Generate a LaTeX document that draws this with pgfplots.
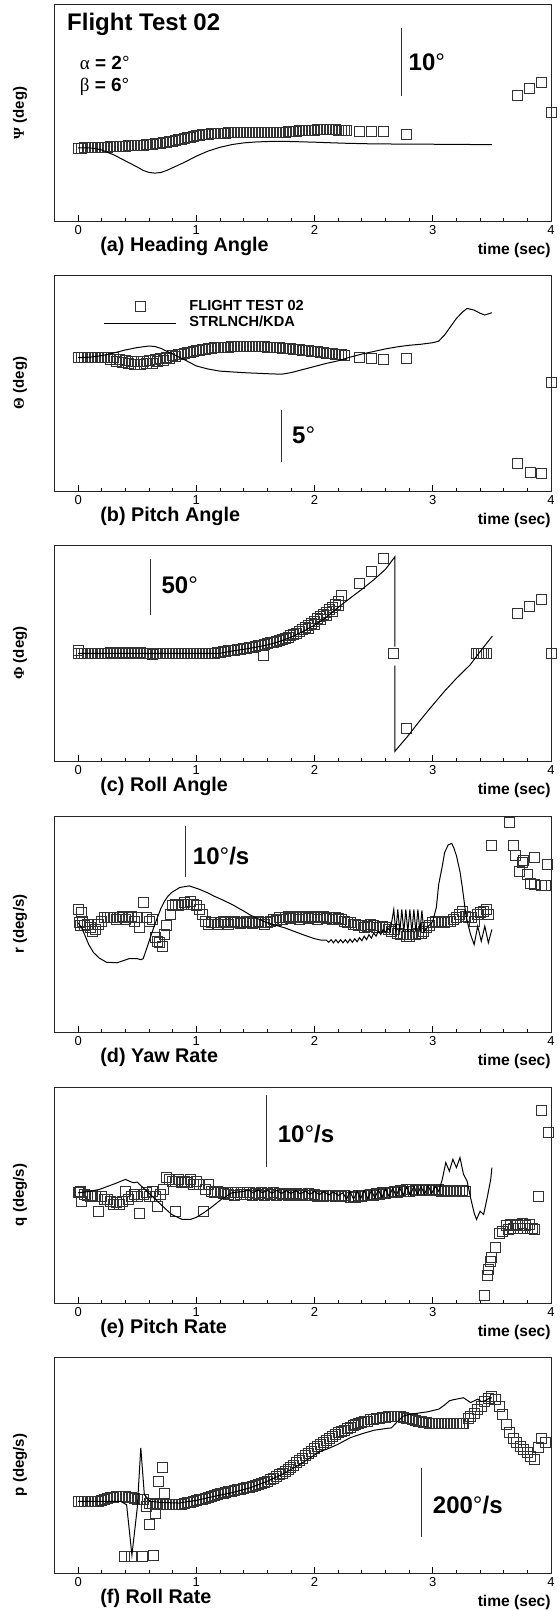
\documentclass[border=0pt]{standalone}
\usepackage{fontspec}
\setmainfont{Liberation Sans}
\newfontfamily\grk{Liberation Serif}
\usepackage{pgfplots}
\pgfplotsset{compat=1.18}

\tikzset{scalebar/.style={line width=0.5pt, black!80}}
\pgfplotsset{
  panel/.style={
    scale only axis, width=248.25pt, height=108pt, anchor=south west,
    xmin=-0.2, xmax=4, xtick={0,1,2,3,4}, minor x tick num=4, ytick=\empty,
    xtick pos=left, tick align=inside,
    major tick length=3pt, minor tick length=1.6pt,
    tick style={black, line width=0.4pt},
    axis line style={line width=0.5pt, black!85},
    xticklabel style={font=\fontsize{6.5}{7}\selectfont, inner sep=0pt, yshift=-2pt},
    /pgf/number format/assume math mode=true,
    ylabel style={at={(axis description cs:-0.0695,0.5)}, anchor=center,
      font=\bfseries\fontsize{7.5}{9}\selectfont},
    clip mode=individual,
  },
  ft/.style={only marks, mark=square, mark size=2.5pt,
    mark options={draw=black!80, line width=0.45pt}},
  sim/.style={black, line width=0.5pt, no marks},
  ftleg/.style={legend image code/.code={\draw[##1] plot coordinates {(17.85pt,0pt)}; \path (0pt,0pt) (42.3pt,0pt);}},
  simleg/.style={legend image code/.code={\draw[##1] (0pt,0pt) -- (35.7pt,0pt); \path (42.3pt,0pt);}},
}
\newcommand{\panelname}[1]{\node[anchor=base west, inner sep=0pt,
  font=\bfseries\fontsize{9.9}{11}\selectfont] at ([yshift=-15pt]rel axis cs:0.0916,0) {#1};
  \node[anchor=base east, inner sep=0pt, font=\bfseries\fontsize{7.8}{9}\selectfont]
  at ([yshift=-16.5pt]rel axis cs:1,0) {time (sec)};}
\newcommand{\scalefont}{\bfseries\fontsize{12}{13}\selectfont}

\begin{document}
\begin{tikzpicture}
\useasboundingbox (0,0) rectangle (280pt,-805.5pt);

% (a) heading angle
\begin{axis}[panel, at={(27.25pt,-110.5pt)}, ymin=-10.74, ymax=21.03,
  ylabel={{\grk Ψ} (deg)}]
\addplot[ft] coordinates {(0,0)(0.025,0)(0.05,0.02)(0.075,0.03)(0.1,0.05)(0.125,0.06)(0.15,0.08)(0.175,0.09)(0.2,0.1)(0.225,0.12)(0.25,0.15)(0.275,0.18)(0.3,0.2)(0.325,0.22)(0.35,0.24)(0.375,0.26)(0.4,0.28)(0.425,0.3)(0.45,0.32)(0.475,0.34)(0.5,0.36)(0.525,0.39)(0.55,0.43)(0.575,0.46)(0.6,0.5)(0.625,0.55)(0.65,0.6)(0.675,0.65)(0.7,0.7)(0.725,0.77)(0.75,0.84)(0.775,0.92)(0.8,1.0)(0.825,1.1)(0.85,1.2)(0.875,1.3)(0.9,1.4)(0.925,1.5)(0.95,1.6)(0.975,1.7)(1,1.8)(1.025,1.87)(1.05,1.94)(1.075,2)(1.1,2.05)(1.125,2.1)(1.15,2.14)(1.175,2.17)(1.2,2.2)(1.225,2.21)(1.25,2.21)(1.275,2.22)(1.3,2.22)(1.325,2.22)(1.35,2.22)(1.375,2.22)(1.4,2.22)(1.425,2.22)(1.45,2.22)(1.475,2.22)(1.5,2.22)(1.525,2.22)(1.55,2.23)(1.575,2.24)(1.6,2.25)(1.625,2.26)(1.65,2.27)(1.675,2.28)(1.7,2.3)(1.725,2.32)(1.75,2.35)(1.775,2.37)(1.8,2.4)(1.825,2.43)(1.85,2.47)(1.875,2.51)(1.9,2.55)(1.925,2.58)(1.95,2.6)(1.975,2.63)(2,2.65)(2.025,2.66)(2.05,2.68)(2.075,2.69)(2.1,2.7)(2.125,2.69)(2.15,2.68)(2.175,2.67)(2.2,2.65)(2.225,2.63)(2.25,2.6)(2.27,2.6)
(2.38,2.45)(2.48,2.45)(2.58,2.45)(2.78,2.06)(3.72,7.7)(3.82,8.7)(3.92,9.66)(4.0,5.25)};
\addplot[sim] coordinates {(0,0)(0.1,0)(0.15,-0.1)(0.2,-0.3)(0.3,-1.0)(0.4,-1.9)(0.5,-2.8)(0.55,-3.3)(0.6,-3.6)(0.65,-3.7)(0.7,-3.6)(0.75,-3.3)(0.8,-2.9)(0.9,-2.1)(1.0,-1.2)(1.1,-0.45)(1.2,0.1)(1.3,0.5)(1.4,0.75)(1.5,0.88)(1.6,0.95)(1.7,0.98)(1.8,0.95)(2.0,0.85)(2.25,0.7)(2.5,0.6)(3.0,0.55)(3.25,0.52)(3.5,0.49)};
\draw[scalebar] (axis cs:2.733,7.65) -- (axis cs:2.733,17.65);
\node[anchor=west, inner sep=0pt, font=\scalefont] at (axis cs:2.793,12.6) {10{\mdseries°}};
\node[anchor=base west, inner sep=0pt, font=\bfseries\fontsize{12}{13}\selectfont] at (axis cs:-0.096,17.35) {Flight Test 02};
\node[anchor=base west, inner sep=0pt, font=\fontsize{9.5}{10}\selectfont] at (axis cs:0.011,11.57) {{\grk α} \textbf{= 2}°};
\node[anchor=base west, inner sep=0pt, font=\fontsize{9.5}{10}\selectfont] at (axis cs:0.011,8.3) {{\grk β} \textbf{= 6}°};
\panelname{(a) Heading Angle}
\end{axis}

% (b) pitch angle
\begin{axis}[panel, at={(27.25pt,-245.5pt)}, ymin=-12.9, ymax=8.0,
  ylabel={{\grk Θ} (deg)},
  legend style={draw=none, fill=none, at={(axis cs:0.214,4.13)}, anchor=west,
    inner sep=0pt, font=\bfseries\fontsize{7.3}{8}\selectfont, row sep=1.6pt,
    nodes={inner sep=0pt, anchor=west}},
  legend cell align=left]
\addplot[ft, ftleg]
 coordinates {(0,0)(0.025,0)(0.05,0)(0.075,0)(0.1,0)(0.125,0)(0.15,0)(0.175,0)(0.2,0)(0.225,0)(0.25,0)(0.275,-0.2)(0.3,0.0)(0.325,-0.4)(0.35,-0.2)(0.375,-0.5)(0.4,-0.25)(0.425,-0.6)(0.45,-0.35)(0.475,-0.65)(0.5,-0.35)(0.525,-0.65)(0.55,-0.35)(0.575,-0.6)(0.6,-0.3)(0.625,-0.55)(0.65,-0.2)(0.675,-0.4)(0.7,-0.1)(0.725,-0.25)(0.75,0.05)(0.775,-0.05)(0.8,0.2)(0.825,0.15)(0.85,0.35)(0.875,0.35)(0.9,0.45)(0.925,0.5)(0.95,0.55)(0.975,0.62)(1,0.68)(1.025,0.74)(1.05,0.8)(1.075,0.84)(1.1,0.88)(1.125,0.92)(1.15,0.95)(1.175,0.98)(1.2,1.0)(1.225,1.01)(1.25,1.02)(1.275,1.03)(1.3,1.04)(1.325,1.05)(1.35,1.06)(1.375,1.06)(1.4,1.07)(1.425,1.07)(1.45,1.07)(1.475,1.07)(1.5,1.07)(1.525,1.06)(1.55,1.05)(1.575,1.04)(1.6,1.03)(1.625,1.01)(1.65,0.99)(1.675,0.97)(1.7,0.95)(1.725,0.92)(1.75,0.9)(1.775,0.87)(1.8,0.85)(1.825,0.82)(1.85,0.78)(1.875,0.75)(1.9,0.72)(1.925,0.69)(1.95,0.66)(1.975,0.63)(2,0.6)(2.025,0.56)(2.05,0.52)(2.075,0.48)(2.1,0.45)(2.125,0.42)(2.15,0.38)(2.175,0.35)(2.2,0.32)(2.225,0.28)(2.25,0.25)
(2.38,0)(2.48,-0.1)(2.58,-0.13)(2.78,-0.1)(3.72,-10.2)(3.83,-11.1)(3.92,-11.2)(4.0,-2.4)};
\addlegendentry{FLIGHT TEST 02}
\addplot[sim, simleg]
 coordinates {(0,0)(0.1,0.05)(0.2,0.2)(0.3,0.45)(0.4,0.75)(0.5,0.98)(0.6,1.13)(0.65,1.08)(0.7,0.9)(0.8,0.35)(0.9,-0.2)(1.0,-0.8)(1.1,-1.1)(1.2,-1.3)(1.4,-1.45)(1.6,-1.55)(1.72,-1.6)(1.8,-1.45)(1.9,-1.15)(2.0,-0.85)(2.1,-0.55)(2.2,-0.3)(2.3,0.05)(2.4,0.35)(2.5,0.6)(2.6,0.85)(2.7,1.05)(2.8,1.2)(2.9,1.3)(3.0,1.45)(3.05,1.6)(3.1,2.2)(3.15,3.0)(3.2,3.8)(3.25,4.4)(3.29,4.77)(3.35,4.6)(3.4,4.3)(3.44,4.13)(3.5,4.35)};
\addlegendentry{STRLNCH/KDA}
\draw[scalebar] (axis cs:1.722,-5.06) -- (axis cs:1.722,-10.07);
\node[anchor=west, inner sep=0pt, font=\scalefont] at (axis cs:1.807,-7.48) {5{\mdseries°}};
\panelname{(b) Pitch Angle}
\end{axis}

% (c) roll angle
\begin{axis}[panel, at={(27.25pt,-380.5pt)}, ymin=-96.8, ymax=97.3,
  ylabel={{\grk Φ} (deg)}]
\addplot[ft] coordinates {(0,3)(0,0)(0.025,0)(0.05,0.3)(0.075,0)(0.1,-0.3)(0.125,0)(0.15,0.3)(0.175,0)(0.2,0)(0.225,0.3)(0.25,0)(0.275,0.5)(0.3,0.3)(0.325,0.5)(0.35,0.3)(0.375,0)(0.4,0.5)(0.425,0.3)(0.45,0.5)(0.475,0.8)(0.5,0.3)(0.525,0.5)(0.55,0)(0.575,0.3)(0.6,-0.5)(0.625,-0.8)(0.65,-0.3)(0.675,0)(0.7,0)(0.725,-0.3)(0.75,0)(0.775,0)(0.8,0)(0.825,0)(0.85,-0.3)(0.875,0)(0.9,0)(0.925,0)(0.95,0)(0.975,0)(1,0)(1.025,0)(1.05,0)(1.075,0)(1.1,0)(1.125,0.2)(1.15,0.3)(1.175,0.6)(1.2,1.0)(1.225,1.4)(1.25,1.8)(1.275,2.2)(1.3,2.6)(1.325,3.0)(1.35,3.4)(1.375,3.8)(1.4,4.3)(1.425,4.7)(1.45,5.2)(1.475,5.7)(1.5,6.2)(1.525,6.8)(1.55,7.4)(1.57,-2)(1.575,8.0)(1.6,8.7)(1.625,9.4)(1.65,10.2)(1.675,11.0)(1.7,11.8)(1.725,12.7)(1.75,13.6)(1.775,14.6)(1.8,15.6)(1.825,16.9)(1.85,18.2)(1.875,19.7)(1.9,21.2)(1.925,23.1)(1.95,25)(1.975,27)(2,29)(2.025,31)(2.05,33)(2.075,35)(2.1,37)(2.125,39.2)(2.15,41.5)(2.175,44)(2.2,46.5)(2.23,52)
(1.95,22)(2.0,26)(2.05,30)(2.1,34)(2.15,38)(2.2,43)
(2.38,62.9)(2.48,73.4)(2.58,85.3)(2.67,0)(2.78,-67.4)(3.37,0)(3.39,0)(3.41,0)(3.43,0)(3.45,0)(3.72,35.9)(3.82,42.5)(3.92,48.8)(4.0,0)};
\addplot[sim, unbounded coords=jump] coordinates {(0,0)(1.2,0)(1.3,2.0)(1.4,3.6)(1.5,5.4)(1.6,7.5)(1.7,10.5)(1.8,14.4)(1.9,19.5)(2.0,25.4)(2.1,32.5)(2.2,41.3)(2.3,49.5)(2.4,57.5)(2.5,66)(2.6,75.5)(2.68,86.8)(2.68,6)(2.68,nan)(2.68,-11)(2.68,-88)(2.785,-74.9)(2.88,-62)(2.977,-49.4)(3.1,-34)(3.2,-22.5)(3.315,-10.5)(3.4,1.5)(3.504,15.5)};
\draw[scalebar] (axis cs:0.612,34.4) -- (axis cs:0.612,84.5);
\node[anchor=west, inner sep=0pt, font=\scalefont] at (axis cs:0.703,61.4) {50{\mdseries°}};
\panelname{(c) Roll Angle}
\end{axis}

% (d) yaw rate
\begin{axis}[panel, at={(27.25pt,-516pt)}, ymin=-21.31, ymax=20.84,
  ylabel={r (deg/s)}]
\addplot[ft] coordinates {(0,2.6)(0.01,0)(0.02,-0.6)(0.03,2.0)(0.04,0.3)(0.05,-0.6)(0.075,-0.3)(0.1,-1.0)(0.125,-1.6)(0.15,-1.3)(0.175,-0.3)(0.2,0.3)(0.225,1.0)(0.25,1.0)(0.275,1.0)(0.3,1.0)(0.325,0.7)(0.35,1.0)(0.375,1.3)(0.4,0.7)(0.425,1.0)(0.45,1.3)(0.475,0.3)(0.5,1.0)(0.52,-1.0)(0.55,3.9)(0.575,1.0)(0.6,0.3)(0.625,0.7)(0.65,-2.9)(0.67,-3.6)(0.69,-3.9)(0.71,-4.6)(0.73,-2.3)(0.75,-0.6)(0.78,1.6)(0.8,3.3)(0.825,3.6)(0.85,3.3)(0.875,3.6)(0.9,3.9)(0.925,3.6)(0.95,4.2)(0.975,3.6)(1,3.3)(1.025,2.6)(1.05,1.6)(1.075,0.3)(1.1,-0.3)(1.125,0)(1.15,0)(1.175,-0.3)(1.2,0)(1.225,0.2)(1.25,0)(1.275,-0.3)(1.3,0)(1.325,0.2)(1.35,0)(1.375,-0.2)(1.4,0)(1.425,0.3)(1.45,0)(1.475,-0.2)(1.5,0)(1.525,0.2)(1.55,0)(1.575,-0.3)(1.6,0)(1.625,0.3)(1.65,0.7)(1.675,0.4)(1.7,1.0)(1.725,0.6)(1.75,1.0)(1.775,1.3)(1.8,0.8)(1.825,1.0)(1.85,1.3)(1.875,0.7)(1.9,1.0)(1.925,1.3)(1.95,0.8)(1.975,1.0)(2,1.2)(2.025,0.7)(2.05,1.0)(2.075,1.3)(2.1,0.8)(2.125,1.0)(2.15,0.7)(2.175,1.0)(2.2,0.8)(2.225,0.6)(2.25,0.3)(2.275,0.1)(2.3,0)(2.325,-0.3)(2.35,-0.3)(2.375,-0.6)(2.4,-0.6)(2.425,-1.0)(2.45,-0.8)(2.475,-0.4)(2.5,-0.6)(2.525,-1.0)(2.55,-1.0)(2.575,-0.7)(2.6,-1.0)(2.625,-1.3)(2.65,-1.6)(2.675,-1.3)(2.7,-2.0)(2.725,-2.3)(2.75,-2.3)(2.775,-2.6)(2.8,-2.6)(2.825,-2.3)(2.85,-2.3)(2.875,-2.0)(2.9,-2.0)(2.925,-1.6)(2.95,-1.0)(2.975,-0.6)(3,0)(3.025,0.3)(3.05,0)(3.075,0.3)(3.1,0)(3.125,0.3)(3.15,0.3)(3.175,0.6)(3.2,1.0)(3.225,1.6)(3.25,2.3)(3.275,1.3)(3.3,1.0)(3.325,1.0)(3.35,0.3)(3.375,1.6)(3.4,2.0)(3.425,2.3)(3.45,2.6)(3.47,1.6)
(3.5,15.0)(3.65,19.6)(3.68,15.0)(3.7,13.1)(3.73,10.1)(3.76,11.8)(3.77,12.1)(3.8,9.5)(3.83,7.6)(3.86,12.7)(3.86,7.5)(3.92,7.2)(3.95,7.2)(3.97,11.4)};
\addplot[sim] coordinates {(0,0)(0.03,-1.0)(0.06,-2.6)(0.09,-4.25)(0.13,-5.8)(0.18,-6.9)(0.24,-7.7)(0.33,-7.8)(0.43,-7.0)(0.5,-7.0)(0.53,-7.2)(0.55,-7.0)(0.58,-5.0)(0.61,-2.9)(0.64,-0.9)(0.67,1.0)(0.7,2.8)(0.73,4.2)(0.76,5.2)(0.79,5.9)(0.86,6.9)(0.94,7.2)(1.03,6.5)(1.1,5.8)(1.15,5.2)(1.2,4.7)(1.3,3.6)(1.4,2.3)(1.45,1.6)(1.5,1.0)(1.6,0)(1.75,-1.0)(1.9,-2.3)(2.0,-3.1)(2.06,-3.4)
(2.1,-3.4)(2.12,-3.8)(2.14,-3.3)(2.16,-3.9)(2.18,-3.3)(2.2,-3.9)(2.22,-3.3)(2.24,-3.9)(2.26,-3.3)(2.28,-3.9)(2.3,-3.2)(2.32,-3.8)(2.34,-3.1)(2.36,-3.7)(2.38,-2.9)(2.4,-3.5)(2.42,-2.6)(2.44,-3.3)(2.46,-2.3)(2.48,-3.0)(2.5,-2.0)(2.52,-2.6)(2.54,-1.6)(2.56,-2.3)(2.58,-1.3)(2.6,-1.9)(2.62,-1.0)(2.64,-1.6)
(2.67,2.6)(2.687,-1.8)(2.704,2.6)(2.721,-1.8)(2.738,2.6)(2.755,-1.8)(2.772,2.6)(2.789,-1.8)(2.806,2.6)(2.823,-1.8)(2.84,2.6)(2.857,-1.8)(2.874,2.6)(2.891,-1.8)(2.908,2.4)(2.925,-1.8)(2.95,-1.0)
(3.0,0.3)(3.03,3.0)(3.05,7.5)(3.08,11)(3.1,13.7)(3.13,15.2)(3.16,15.5)(3.18,14.5)(3.2,13.1)(3.23,10)(3.25,6.9)(3.28,1.6)(3.3,-0.5)(3.32,-2.3)(3.35,-4.25)(3.38,-0.65)(3.41,-3.6)(3.44,-0.65)(3.47,-3.9)(3.5,-1.3)};
\draw[scalebar] (axis cs:0.908,8.9) -- (axis cs:0.908,18.9);
\node[anchor=west, inner sep=0pt, font=\scalefont] at (axis cs:0.968,13.1) {10{\mdseries°}/s};
\panelname{(d) Yaw Rate}
\end{axis}

% (e) pitch rate
\begin{axis}[panel, at={(27.25pt,-651.5pt)}, ymin=-15.3, ymax=14.69,
  ylabel={q (deg/s)}]
\addplot[ft] coordinates {(0,0)(0.01,0)(0.02,0.2)(0.03,-1.2)(0.05,-0.2)(0.075,-0.4)(0.1,-0.5)(0.125,-0.4)(0.15,-0.5)(0.17,-2.6)(0.2,-0.5)(0.225,-0.9)(0.25,-0.9)(0.275,-1.2)(0.3,-1.6)(0.325,-1.4)(0.35,-1.6)(0.375,-1.2)(0.4,0.2)(0.425,-0.9)(0.45,-0.5)(0.475,-0.2)(0.5,-0.5)(0.52,-2.8)(0.55,-0.2)(0.575,0)(0.6,-0.5)(0.625,0.2)(0.65,-0.5)(0.67,-1.9)(0.7,-0.2)(0.725,0.5)(0.75,2.1)(0.775,1.9)(0.8,1.6)(0.82,-2.6)(0.825,1.6)(0.85,1.9)(0.875,1.4)(0.9,1.6)(0.925,1.4)(0.95,1.9)(0.975,1.2)(1,1.6)(1.025,1.2)(1.06,-2.6)(1.075,0.5)(1.1,1.2)(1.125,0.2)(1.15,0)(1.175,0.2)(1.2,0.1)(1.225,-0.1)(1.25,0.1)(1.275,-0.2)(1.3,0)(1.325,-0.3)(1.35,0)(1.375,-0.2)(1.4,0.1)(1.425,-0.2)(1.45,0)(1.475,-0.4)(1.5,-0.1)(1.525,-0.2)(1.55,0)(1.575,-0.3)(1.6,-0.1)(1.625,-0.2)(1.65,0)(1.675,-0.3)(1.7,-0.1)(1.725,-0.2)(1.75,-0.1)(1.775,-0.4)(1.8,-0.1)(1.825,-0.2)(1.85,-0.1)(1.875,-0.4)(1.9,-0.2)(1.925,-0.3)(1.95,-0.1)(1.975,-0.4)(2,-0.2)(2.025,-0.5)(2.05,-0.3)(2.075,-0.5)(2.1,-0.3)(2.125,-0.4)(2.15,-0.3)(2.175,-0.5)(2.2,-0.3)(2.225,-0.5)(2.25,-0.4)(2.3,-0.6)(2.325,-0.5)(2.35,-0.6)(2.375,-0.4)(2.4,-0.5)(2.425,-0.3)(2.45,-0.4)(2.475,-0.2)(2.5,-0.3)(2.525,-0.1)(2.55,-0.2)(2.575,0)(2.6,-0.1)(2.625,0.1)(2.65,0)(2.675,0.2)(2.7,0.1)(2.725,0.3)(2.75,0.2)(2.775,0.4)(2.8,0.2)(2.825,0.4)(2.85,0.3)(2.875,0.5)(2.9,0.3)(2.925,0.5)(2.95,0.3)(2.975,0.5)(3,0.4)(3.025,0.3)(3.05,0.4)(3.075,0.2)(3.1,0.3)(3.125,0.2)(3.15,0.3)(3.175,0.2)(3.2,0.3)(3.225,0.2)(3.25,0.3)(3.28,0.2)
(3.44,-14.2)(3.46,-11.5)(3.47,-10.6)(3.49,-9.5)(3.5,-9.0)(3.53,-7.6)(3.56,-5.6)(3.59,-5.3)(3.62,-4.6)(3.64,-5.1)(3.66,-4.4)(3.68,-5.0)(3.7,-4.6)(3.72,-4.4)(3.74,-5.0)(3.76,-4.2)(3.78,-4.6)(3.8,-5.0)(3.82,-4.4)(3.84,-4.9)(3.86,-5.1)(3.89,-0.5)(3.92,11.4)(3.98,8.4)};
\addplot[sim] coordinates {(0,0)(0.1,0.2)(0.18,0.47)(0.3,1.2)(0.4,1.86)(0.45,1.5)(0.47,1.4)(0.5,1.5)(0.52,1.16)(0.55,0.7)(0.61,-0.23)(0.7,-1.63)(0.79,-3.0)(0.88,-3.7)(0.95,-3.7)(1.0,-3.4)(1.06,-2.8)(1.12,-2.1)(1.21,-0.93)(1.3,0)(1.4,0.2)
(1.44,0.4)(1.48,0.0)(1.52,0.4)(1.56,0.0)(1.6,0.35)(1.64,-0.05)(1.68,0.35)(1.72,-0.1)(1.76,0.3)(1.8,-0.1)(1.84,0.3)(1.88,-0.15)(1.92,0.25)(1.96,-0.2)(2.0,0.2)(2.04,-0.25)(2.08,0.15)(2.12,-0.3)(2.16,0.1)(2.2,-0.35)(2.24,0.0)
(2.27,-0.9)(2.3,0.2)(2.33,-0.9)(2.36,0.2)(2.39,-0.8)(2.42,0.3)(2.45,-0.8)(2.48,0.3)(2.51,-0.7)(2.54,0.4)(2.57,-0.6)(2.6,0.5)(2.63,-0.5)(2.66,0.6)(2.69,-0.4)(2.72,0.7)(2.75,-0.3)(2.78,0.8)(2.81,-0.3)(2.84,0.9)(2.87,-0.2)(2.9,0.9)(2.93,-0.2)(2.96,1.0)(2.99,-0.1)(3.02,0.9)(3.05,0.2)
(3.08,1.86)(3.11,4.2)(3.14,3.0)(3.17,4.65)(3.2,3.5)(3.23,4.9)(3.26,2.56)(3.29,1.63)(3.32,-0.7)(3.35,-2.8)(3.37,-3.7)(3.4,-2.56)(3.43,-3.0)(3.46,-0.7)(3.49,1.86)(3.5,3.5)};
\draw[scalebar] (axis cs:1.593,3.6) -- (axis cs:1.593,13.6);
\node[anchor=west, inner sep=0pt, font=\scalefont] at (axis cs:1.686,8.1) {10{\mdseries°}/s};
\panelname{(e) Pitch Rate}
\end{axis}

% (f) roll rate
\begin{axis}[panel, at={(27.25pt,-786.5pt)}, ymin=-206.7, ymax=416.5,
  ylabel={p (deg/s)}]
\addplot[ft] coordinates {(0,0)(0.025,0)(0.05,0)(0.075,0)(0.1,0)(0.125,0)(0.15,0)(0.175,0)(0.2,2)(0.225,5)(0.25,8)(0.275,10)(0.3,12)(0.325,13.5)(0.35,14.5)(0.375,14.5)(0.4,13.5)(0.425,12)(0.45,10)(0.475,8)(0.5,6)(0.525,5)(0.55,4.8)
(0.395,-159)(0.455,-159)(0.546,-159)(0.636,-155)(0.606,-68)(0.652,-34)(0.576,-14.5)(0.682,58)(0.712,97)(0.727,24)
(0.6,-5)(0.625,-6)(0.65,-8)(0.675,-7)(0.7,-8)(0.725,-9)(0.75,-9.7)(0.775,-9.7)(0.8,-9.7)(0.825,-9)(0.85,-9.7)(0.875,-8)(0.9,-6)(0.925,-4)(0.95,-2)(0.975,0)(1,3)(1.025,5)(1.05,7)(1.075,9)(1.1,12)(1.125,15)(1.15,17)(1.175,19)(1.2,22)(1.225,24)(1.25,26)(1.275,28)(1.3,30)(1.325,32)(1.35,33)(1.375,35)(1.4,37)(1.425,39)(1.45,41)(1.475,43)(1.5,45)(1.525,48)(1.55,51)(1.575,54)(1.6,58)(1.625,62)(1.65,67)(1.675,72)(1.7,77)(1.725,82)(1.75,87)(1.775,92)(1.8,98)(1.825,104)(1.85,111)(1.875,118)(1.9,125)(1.925,132)(1.95,139)(1.975,145)(2,152)(2.025,158)(2.05,164)(2.075,170)(2.1,176)(2.125,182)(2.15,187)(2.175,193)(2.2,198)(2.225,202)(2.25,206)(2.275,210)(2.3,214)(2.325,218)(2.35,221)(2.375,224)(2.4,227)(2.425,230)(2.45,232)(2.475,235)(2.5,237)(2.525,239)(2.55,240)(2.575,242)(2.6,243)(2.625,245)(2.65,246)(2.675,246)(2.7,245)(2.725,244)(2.75,242)(2.775,240)(2.8,238)(2.825,236)(2.85,234)(2.875,232)(2.9,231)(2.925,229)(2.95,227)(2.975,226)(3,225)(3.025,225)(3.05,224)(3.075,224)(3.1,224)(3.125,224)(3.15,224)(3.175,224)(3.2,224)(3.225,224)(3.25,224)(3.26,224)
(3.3,238)(3.32,246)(3.35,255)(3.38,265)(3.41,275)(3.44,288)(3.47,298)(3.5,304)(3.53,295)(3.56,275)(3.59,251)(3.62,222)(3.65,200)(3.68,183)(3.71,170)(3.74,159)(3.77,150)(3.8,140)(3.83,130)(3.86,121)(3.89,155)(3.92,183)(3.95,169)};
\addplot[sim] coordinates {(0,0)(0.36,0)(0.41,-9.7)(0.455,-155)(0.5,-19.3)(0.53,154.6)(0.56,19.3)(0.61,0)(0.7,-3)(0.85,-4.8)(1.0,3)(1.15,14.5)(1.3,25)(1.45,38.6)(1.6,58)(1.75,82)(1.9,112)(2.05,145)(2.1,150)(2.2,165)(2.3,183.5)(2.4,195)(2.5,205)(2.6,210)(2.65,212)(2.7,230)(2.75,246)(2.8,251)(2.85,253)(2.9,256)(2.95,258)(3.0,262)(3.05,266)(3.1,278)(3.14,290)(3.17,293)(3.2,295)(3.23,297)(3.26,299)(3.29,292)(3.32,285)(3.35,290)(3.38,295)(3.41,288)(3.44,290)(3.47,296)(3.5,299)};
\draw[scalebar] (axis cs:2.908,-103) -- (axis cs:2.908,96.8);
\node[anchor=west, inner sep=0pt, font=\scalefont] at (axis cs:2.998,-9.6) {200{\mdseries°}/s};
\panelname{(f) Roll Rate}
\end{axis}
\end{tikzpicture}
\end{document}
